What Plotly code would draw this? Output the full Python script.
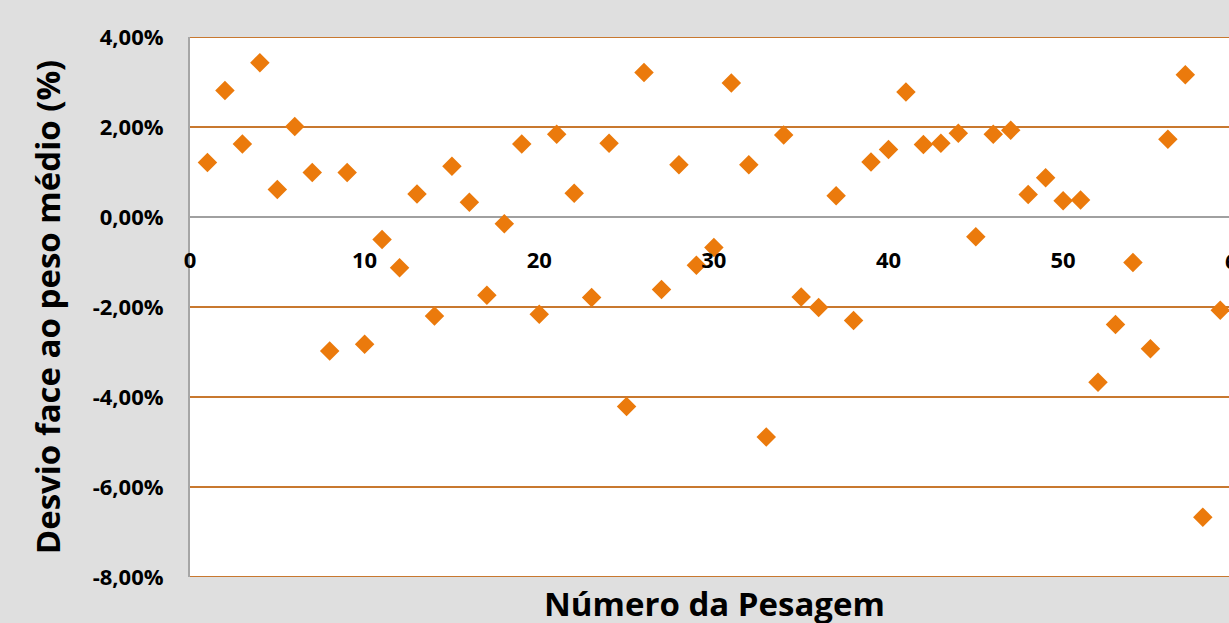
import plotly.graph_objects as go

pesagem = list(range(1, 61))
desvio = [1.21, 2.81, 1.62, 3.43, 0.61, 2.01, 0.99, -2.98, 0.99, -2.83,
          -0.50, -1.13, 0.51, -2.20, 1.13, 0.33, -1.74, -0.15, 1.62, -2.16,
          1.84, 0.53, -1.79, 1.64, -4.21, 3.21, -1.61, 1.16, -1.07, -0.68,
          2.98, 1.16, -4.89, 1.82, -1.78, -2.01, 0.47, -2.30, 1.22, 1.50,
          2.78, 1.61, 1.64, 1.86, -0.44, 1.84, 1.93, 0.50, 0.87, 0.36,
          0.38, -3.67, -2.39, -1.01, -2.93, 1.73, 3.16, -6.67, -2.07, 0.12]
desvio_frac = [v / 100 for v in desvio]

x_ticks = [0, 10, 20, 30, 40, 50, 60]
y_ticks = [-0.08, -0.06, -0.04, -0.02, 0.0, 0.02, 0.04]
y_ticktext = [f"{v * 100:.2f}%".replace(".", ",") for v in y_ticks]

FONT = "Open Sans"
GRID = "#C8782F"
X_MAX = 59.5  # visible part of the (cropped) x axis
Y_MIN, Y_MAX = y_ticks[0], y_ticks[-1]
ZERO_POS = (0.0 - Y_MIN) / (Y_MAX - Y_MIN)

fig = go.Figure()
fig.add_trace(go.Scatter(
    x=pesagem, y=desvio_frac, mode="markers",
    marker=dict(symbol="diamond", size=15, color="#EB7A0C", line=dict(width=0)),
    cliponaxis=False, showlegend=False, hoverinfo="x+y",
))

tickfont = dict(family=FONT, size=22, color="#000000", weight="bold")

fig.update_layout(
    width=1229, height=623,
    margin=dict(l=190, r=0, t=37, b=46, autoexpand=False),
    paper_bgcolor="#DFDFDF", plot_bgcolor="#FFFFFF",
    separators=", ",
    font=dict(family=FONT, color="#000000"),
    xaxis=dict(
        range=[0, X_MAX], tickvals=x_ticks, ticks="", showgrid=False,
        zeroline=False, showline=False, anchor="free",
        position=ZERO_POS,
        ticklabelstandoff=28,
        tickfont=tickfont,
        title=None, automargin=False,
    ),
    yaxis=dict(
        range=[Y_MIN, Y_MAX], tickvals=y_ticks, ticktext=y_ticktext,
        ticks="", showgrid=True, gridcolor=GRID, gridwidth=2,
        zeroline=True, zerolinecolor="#A0A0A0", zerolinewidth=2,
        showline=True, linecolor="#A6A6A6", linewidth=2,
        ticklabelstandoff=20,
        tickfont=tickfont,
        title=dict(text="Desvio face ao peso médio (%)", standoff=22,
                   font=dict(family=FONT, size=33, color="#000000", weight="bold")),
        automargin=False,
    ),
)

# edge grid lines (plotly hides grid lines that sit on the plot edges)
for yv in (y_ticks[0], y_ticks[-1]):
    fig.add_shape(type="line", xref="paper", yref="y", x0=0, x1=1, y0=yv, y1=yv,
                  line=dict(color=GRID, width=2), layer="below")

# last x tick label, which sits past the cropped right edge of the chart
fig.add_annotation(
    text=str(x_ticks[-1]), xref="paper", yref="paper",
    x=x_ticks[-1] / X_MAX, y=ZERO_POS, yshift=-43,
    xanchor="center", yanchor="middle", showarrow=False, font=tickfont,
)

fig.add_annotation(
    text="Número da Pesagem", xref="paper", yref="paper",
    x=0.505, y=0, yshift=-26, xanchor="center", yanchor="middle",
    showarrow=False,
    font=dict(family=FONT, size=33, color="#000000", weight="bold"),
)

fig.write_html(
    "out.html",
    config={"displayModeBar": False},
    post_script="document.body.style.margin='0';document.body.style.padding='0';",
)
